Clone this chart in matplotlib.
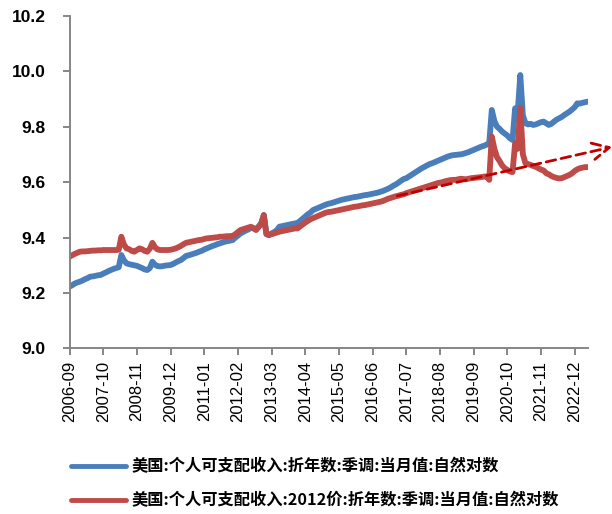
import numpy as np
import pandas as pd
import matplotlib
matplotlib.use("Agg")
import matplotlib.pyplot as plt

# monthly categories, 2006-09 .. 2023-05
months = pd.period_range("2006-09", "2023-05", freq="M").strftime("%Y-%m").tolist()

# 美国:个人可支配收入:折年数:季调:当月值:自然对数  (one row per year)
nominal = [
    9.223, 9.228, 9.234, 9.238,
    9.241, 9.245, 9.250, 9.254, 9.259, 9.260, 9.262, 9.264, 9.265, 9.270, 9.274, 9.279,
    9.283, 9.287, 9.290, 9.293, 9.337, 9.318, 9.307, 9.304, 9.302, 9.300, 9.298, 9.294,
    9.290, 9.285, 9.283, 9.290, 9.313, 9.302, 9.297, 9.296, 9.297, 9.299, 9.300, 9.301,
    9.305, 9.310, 9.315, 9.319, 9.326, 9.334, 9.336, 9.339, 9.342, 9.345, 9.349, 9.352,
    9.357, 9.361, 9.365, 9.369, 9.372, 9.376, 9.379, 9.382, 9.385, 9.387, 9.389, 9.391,
    9.400, 9.407, 9.415, 9.420, 9.425, 9.429, 9.435, 9.433, 9.430, 9.440, 9.452, 9.481,
    9.412, 9.409, 9.415, 9.420, 9.426, 9.439, 9.441, 9.443, 9.445, 9.447, 9.449, 9.451,
    9.453, 9.460, 9.468, 9.476, 9.484, 9.490, 9.499, 9.503, 9.507, 9.511, 9.515, 9.519,
    9.522, 9.524, 9.527, 9.530, 9.533, 9.536, 9.538, 9.540, 9.542, 9.544, 9.546, 9.547,
    9.549, 9.551, 9.553, 9.554, 9.556, 9.558, 9.560, 9.562, 9.565, 9.568, 9.572, 9.576,
    9.581, 9.587, 9.592, 9.598, 9.605, 9.611, 9.614, 9.620, 9.626, 9.632, 9.638, 9.644,
    9.650, 9.655, 9.660, 9.665, 9.668, 9.672, 9.676, 9.680, 9.684, 9.688, 9.692, 9.695,
    9.697, 9.698, 9.699, 9.700, 9.702, 9.705, 9.708, 9.712, 9.716, 9.720, 9.724, 9.728,
    9.731, 9.735, 9.740, 9.860, 9.820, 9.800, 9.792, 9.782, 9.775, 9.768, 9.758, 9.752,
    9.866, 9.850, 9.986, 9.840, 9.812, 9.808, 9.810, 9.806, 9.808, 9.812, 9.816, 9.818,
    9.812, 9.806, 9.810, 9.818, 9.825, 9.830, 9.835, 9.842, 9.848, 9.854, 9.862, 9.870,
    9.884, 9.883, 9.886, 9.888, 9.890,
]

# 美国:个人可支配收入:2012价:折年数:季调:当月值:自然对数
real = [
    9.331, 9.336, 9.341, 9.345,
    9.349, 9.350, 9.350, 9.351, 9.352, 9.353, 9.353, 9.354, 9.354, 9.355, 9.355, 9.355,
    9.355, 9.355, 9.355, 9.356, 9.403, 9.375, 9.361, 9.358, 9.352, 9.349, 9.355, 9.361,
    9.358, 9.352, 9.349, 9.360, 9.381, 9.365, 9.357, 9.355, 9.355, 9.355, 9.355, 9.356,
    9.358, 9.361, 9.365, 9.370, 9.376, 9.381, 9.383, 9.385, 9.387, 9.389, 9.391, 9.392,
    9.395, 9.397, 9.398, 9.399, 9.400, 9.401, 9.403, 9.403, 9.404, 9.405, 9.405, 9.406,
    9.412, 9.420, 9.427, 9.430, 9.433, 9.436, 9.439, 9.434, 9.427, 9.438, 9.450, 9.481,
    9.413, 9.409, 9.412, 9.415, 9.418, 9.421, 9.423, 9.425, 9.427, 9.429, 9.431, 9.433,
    9.433, 9.440, 9.447, 9.454, 9.460, 9.466, 9.470, 9.474, 9.478, 9.482, 9.486, 9.490,
    9.492, 9.493, 9.495, 9.497, 9.499, 9.501, 9.503, 9.505, 9.507, 9.509, 9.511, 9.512,
    9.514, 9.516, 9.517, 9.519, 9.521, 9.523, 9.525, 9.527, 9.529, 9.532, 9.536, 9.540,
    9.543, 9.546, 9.549, 9.551, 9.554, 9.556, 9.560, 9.563, 9.566, 9.569, 9.572, 9.575,
    9.578, 9.581, 9.584, 9.587, 9.590, 9.593, 9.596, 9.598, 9.600, 9.603, 9.605, 9.607,
    9.608, 9.608, 9.610, 9.612, 9.611, 9.610, 9.612, 9.614, 9.615, 9.616, 9.617, 9.618,
    9.620, 9.620, 9.608, 9.764, 9.720, 9.690, 9.676, 9.660, 9.650, 9.644, 9.638, 9.636,
    9.740, 9.720, 9.866, 9.700, 9.668, 9.665, 9.662, 9.658, 9.655, 9.650, 9.645, 9.642,
    9.632, 9.628, 9.622, 9.618, 9.615, 9.613, 9.614, 9.618, 9.622, 9.626, 9.632, 9.640,
    9.646, 9.650, 9.652, 9.654, 9.654,
]

# dashed trend arrow (month index, value)
trend_x = [126.5, 209.5]
trend_y = [9.550, 9.727]

tick_labels = ["2006-09", "2007-10", "2008-11", "2009-12", "2011-01", "2012-02",
               "2013-03", "2014-04", "2015-05", "2016-06", "2017-07", "2018-08",
               "2019-09", "2020-10", "2021-11", "2022-12"]
yticks = [9.0, 9.2, 9.4, 9.6, 9.8, 10.0, 10.2]

label_nominal = "美国:个人可支配收入:折年数:季调:当月值:自然对数"
label_real = "美国:个人可支配收入:2012价:折年数:季调:当月值:自然对数"

blue = "#4A7EBB"
red = "#BE4B48"
grey = "#868686"

fig = plt.figure(figsize=(6.12, 5.14), dpi=100)
ax = fig.add_axes([0.1136, 0.322, 0.8466, 0.6475])

x = np.arange(len(months))
ax.plot(x, nominal, color=blue, lw=4.2, solid_capstyle="round", solid_joinstyle="round", label=label_nominal)
ax.plot(x, real, color=red, lw=4.2, solid_capstyle="round", solid_joinstyle="round", label=label_real)

ax.annotate("", xy=(trend_x[1], trend_y[1]), xytext=(trend_x[0], trend_y[0]),
            annotation_clip=False,
            arrowprops=dict(arrowstyle="->,head_length=1.2,head_width=0.6",
                            color="#C00000", lw=2.0, linestyle=(0, (3.5, 2)),
                            shrinkA=0, shrinkB=0))

ax.set_xlim(0, len(months) - 1)
ax.set_ylim(9.0, 10.2)
ax.set_yticks(yticks)
ax.set_yticklabels(["%.1f" % v for v in yticks], fontweight="bold", fontsize=12.5,
                   family="Liberation Sans")
tick_pos = [months.index(t) for t in tick_labels]
ax.set_xticks(tick_pos)
ax.set_xticklabels(tick_labels, rotation=90, fontsize=12, family="Liberation Sans")

for s in ["top", "right"]:
    ax.spines[s].set_visible(False)
for s in ["left", "bottom"]:
    ax.spines[s].set_color(grey)
    ax.spines[s].set_linewidth(1.4)
ax.tick_params(axis="both", colors=grey, width=1.4, length=5, labelcolor="black")
ax.tick_params(axis="y", pad=12)
ax.tick_params(axis="x", pad=4)

leg = fig.legend(loc="upper left", bbox_to_anchor=(71 / 612, 1 - 458 / 514),
                 frameon=False, handlelength=3.4, handletextpad=0.3,
                 labelspacing=1.1, borderpad=0, borderaxespad=0,
                 prop={"family": ["Noto Sans CJK SC", "DejaVu Sans"], "weight": "bold", "size": 11.7})
for line in leg.get_lines():
    line.set_linewidth(3.5)

fig.savefig("out.png", dpi=100)
